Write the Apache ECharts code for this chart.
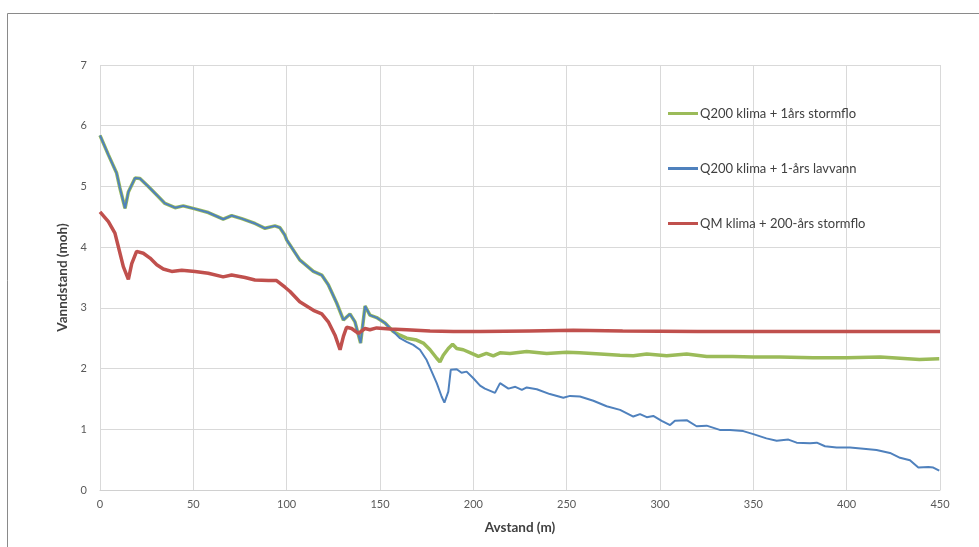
<!DOCTYPE html>
<html>
<head>
<meta charset="utf-8">
<script src="https://cdn.jsdelivr.net/npm/echarts@6/dist/echarts.min.js"></script>
<style>
html,body{margin:0;padding:0;background:#fff;}
#chart{width:979px;height:547px;}
</style>
</head>
<body>
<div id="chart"></div>
<script>
// Series names
var seriesNames = ['Q200 klima + 1års stormflo', 'Q200 klima + 1-års lavvann', 'QM klima + 200-års stormflo'];

// Shared upper part of both Q200 series (distance m, level moh)
var commonX = [0,4.5,8.9,10.7,13.4,15.2,18.8,21.4,25.9,30.4,34.8,40.2,44.6,50.9,58,66,70.5,75.9,83,88.4,93.7,96.4,99,100,107,114.3,118.8,122.3,126.8,130.4,133.9,136.6,139.6,142,144.6,148.2,152.7,157.1];
var commonY = [5.84,5.52,5.22,4.97,4.64,4.91,5.14,5.13,5.0,4.86,4.72,4.65,4.68,4.63,4.57,4.46,4.52,4.47,4.39,4.31,4.35,4.32,4.2,4.12,3.79,3.6,3.54,3.38,3.08,2.80,2.9,2.77,2.42,3.03,2.88,2.84,2.75,2.61];

// Q200 klima + 1års stormflo (tail)
var stormfloX = [160.7,164.3,169.6,173.2,176.8,180.4,182.1,183.9,186.6,188.9,191.1,194.6,199.1,202.7,207,210.7,214.3,219.6,228.6,239.3,250,257,268,278.6,285.7,292.9,303.6,314.3,325,339,350,364,382,400,418,428.6,439,449.6];
var stormfloY = [2.55,2.50,2.47,2.42,2.31,2.17,2.11,2.22,2.33,2.40,2.33,2.31,2.25,2.20,2.25,2.21,2.26,2.25,2.28,2.25,2.27,2.26,2.24,2.22,2.21,2.24,2.21,2.24,2.20,2.20,2.19,2.19,2.18,2.18,2.19,2.17,2.15,2.16];

// Q200 klima + 1-års lavvann (tail)
var lavvannX = [160.7,164.3,167.8,171.4,175,177.7,180.4,183,184.5,186.6,187.9,191.1,193.7,196.4,200,203.6,206.2,211.6,214.3,218.8,222.5,226,228.6,234,241,248.2,251.8,257.1,264.3,271.4,278.6,285.7,289.3,292.9,296.4,300.9,305.4,308,314.3,319.6,325,332,337.5,344.6,350,357,362.5,368.8,373.2,380.4,384,388.4,394.6,401.8,409,416,423.2,428.6,433.9,438.4,443.8,446.4,449.6];
var lavvannY = [2.50,2.44,2.39,2.31,2.14,1.95,1.76,1.54,1.44,1.62,1.98,1.99,1.93,1.95,1.84,1.72,1.67,1.60,1.76,1.67,1.70,1.65,1.69,1.66,1.58,1.52,1.55,1.54,1.47,1.38,1.32,1.21,1.25,1.20,1.22,1.14,1.07,1.14,1.15,1.05,1.06,0.99,0.99,0.97,0.92,0.85,0.81,0.83,0.78,0.77,0.78,0.72,0.70,0.70,0.68,0.66,0.61,0.53,0.49,0.37,0.38,0.37,0.32];

// QM klima + 200-års stormflo
var qmX = [0,4.5,8,9.8,12.5,15.2,17,19.6,23.2,26.8,30.4,33.9,38.4,43.8,50.9,58,66,70.5,77.7,83,90.2,94.6,99.1,101.8,107,114.3,118.8,122.3,125.9,128.6,130.4,132.1,134.8,138.4,142,144.6,148.2,155.4,164.3,176.8,189.3,203.6,230,253.6,280,320,380,450];
var qmY = [4.58,4.42,4.23,4.01,3.68,3.47,3.73,3.93,3.90,3.82,3.71,3.64,3.60,3.62,3.60,3.57,3.51,3.54,3.50,3.46,3.45,3.45,3.34,3.27,3.10,2.96,2.90,2.77,2.55,2.31,2.53,2.68,2.66,2.58,2.66,2.64,2.67,2.65,2.64,2.62,2.61,2.61,2.62,2.63,2.62,2.61,2.61,2.61];

function pairs(xs, ys){ return xs.map(function(x,i){ return [x, ys[i]]; }); }

var colors = ['#9BBB59', '#4F81BD', '#C0504D'];
var font = 'Lato, "Noto Sans", sans-serif';

var chart = echarts.init(document.getElementById('chart'), null, {renderer:'canvas'});
chart.setOption({
  animation: false,
  backgroundColor: '#fff',
  graphic: [{
    type: 'rect', left: 5, top: 11, silent: true,
    shape: {x:0, y:0, width: 1200, height: 800},
    style: {fill: 'none', stroke: '#8a8a8a', lineWidth: 1}
  }],
  grid: {left: 100, right: 39, top: 65, bottom: 57, containLabel: false},
  legend: {
    orient: 'vertical', left: 663, top: 101, itemGap: 40,
    itemWidth: 30, itemHeight: 3, icon: 'rect',
    textStyle: {fontFamily: font, fontSize: 13, color: '#404040', lineHeight: 15, padding:[0,0,0,-3]},
    data: seriesNames
  },
  xAxis: {
    type: 'value', min: 0, max: 450, interval: 50,
    name: 'Avstand (m)', nameLocation: 'middle', nameGap: 31,
    nameTextStyle: {fontFamily: font, fontSize: 13.5, fontWeight: 'bold', color: '#404040'},
    axisLine: {show: true, lineStyle: {color: '#d0d0d0', width: 1}},
    axisTick: {show: false},
    axisLabel: {fontFamily: font, fontSize: 11, color: '#595959', margin: 9},
    splitLine: {show: true, lineStyle: {color: '#d9d9d9', width: 1}}
  },
  yAxis: {
    type: 'value', min: 0, max: 7, interval: 1,
    name: 'Vanndstand (moh)', nameLocation: 'middle', nameGap: 21, nameRotate: 90,
    nameTextStyle: {fontFamily: font, fontSize: 13.5, fontWeight: 'bold', color: '#404040'},
    axisLine: {show: false},
    axisTick: {show: false},
    axisLabel: {fontFamily: font, fontSize: 11, color: '#595959', margin: 13},
    splitLine: {show: true, lineStyle: {color: '#d9d9d9', width: 1}}
  },
  series: [
    {name: seriesNames[0], type: 'line', showSymbol: false, symbol: 'none',
     data: pairs(commonX.concat(stormfloX), commonY.concat(stormfloY)),
     lineStyle: {color: colors[0], width: 3.5}, itemStyle: {color: colors[0]}, z: 2},
    {name: seriesNames[1], type: 'line', showSymbol: false, symbol: 'none',
     data: pairs(commonX.concat(lavvannX), commonY.concat(lavvannY)),
     lineStyle: {color: colors[1], width: 2}, itemStyle: {color: colors[1]}, z: 3},
    {name: seriesNames[2], type: 'line', showSymbol: false, symbol: 'none',
     data: pairs(qmX, qmY),
     lineStyle: {color: colors[2], width: 3.5}, itemStyle: {color: colors[2]}, z: 4}
  ]
});
</script>
</body>
</html>
